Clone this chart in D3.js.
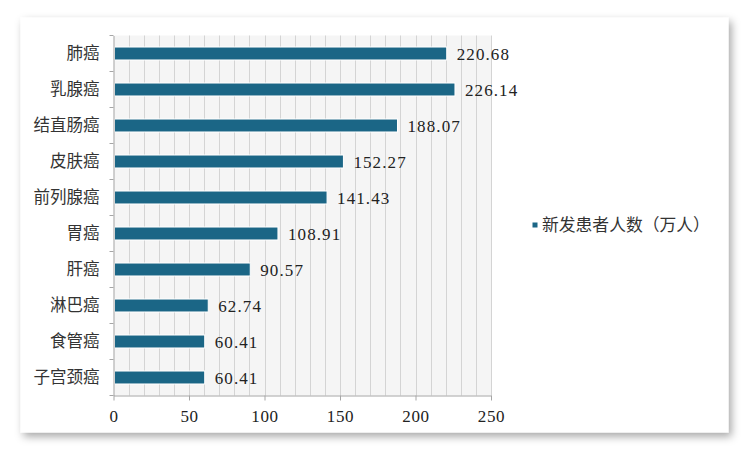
<!DOCTYPE html>
<html><head><meta charset="utf-8">
<script src="https://cdn.jsdelivr.net/npm/d3@7"></script>
<style>body{margin:0;background:#fff}</style>
</head><body>
<svg id="c" width="750" height="451"></svg>
<script>
const categories = ["肺癌","乳腺癌","结直肠癌","皮肤癌","前列腺癌","胃癌","肝癌","淋巴癌","食管癌","子宫颈癌"];
const values = [220.68,226.14,188.07,152.27,141.43,108.91,90.57,62.74,60.41,60.41];
const valueLabels = ["220.68","226.14","188.07","152.27","141.43","108.91","90.57","62.74","60.41","60.41"];
const xTicks = [0,50,100,150,200,250];
const gridTicks = d3.range(0,251,10);
const seriesName = "新发患者人数（万人）";

const numFont = "Liberation Serif, serif";
const cjkFont = "Noto Sans CJK SC, sans-serif";

const svg = d3.select("#c");
const defs = svg.append("defs");
const f = defs.append("filter").attr("id","sh").attr("x","-5%").attr("y","-8%").attr("width","112%").attr("height","120%");
f.append("feDropShadow").attr("dx",3).attr("dy",4).attr("stdDeviation",4.5).attr("flood-color","#000").attr("flood-opacity",0.35);

svg.append("rect").attr("x",20.5).attr("y",17.5).attr("width",708).attr("height",415)
  .attr("fill","#fff").attr("filter","url(#sh)");

const L=113.5, R=491, T=35.5, B=395.5;
const x = d3.scaleLinear().domain([0,250]).range([L,R]);
const y = d3.scaleBand().domain(categories).range([T,B]).paddingInner(0.64).paddingOuter(0.32);
const yb = d3.scaleBand().domain(categories).range([T,B]);

svg.append("rect").attr("x",L).attr("y",T).attr("width",R-L).attr("height",B-T).attr("fill","#f5f5f5");
svg.append("g").selectAll("line").data(gridTicks.filter(d=>d>0)).join("line")
  .attr("x1",d=>Math.round(x(d))+0.5).attr("x2",d=>Math.round(x(d))+0.5)
  .attr("y1",T).attr("y2",B).attr("stroke","#d4d4d4").attr("stroke-width",1);

// bars
svg.append("g").selectAll("rect").data(values).join("rect")
  .attr("x",L+1).attr("y",(d,i)=>y(categories[i]))
  .attr("width",d=>x(d)-L-1).attr("height",y.bandwidth())
  .attr("fill","#1b6686").attr("stroke","#ffffff").attr("stroke-width",1);

// value labels
svg.append("g").selectAll("text").data(values).join("text")
  .attr("x",d=>x(d)+10).attr("y",(d,i)=>y(categories[i])+y.bandwidth()/2)
  .attr("dy","0.36em").attr("font-family",numFont).attr("font-size",17)
  .attr("letter-spacing",1.1).attr("fill","#222").text((d,i)=>valueLabels[i]);

// x axis
const xa = svg.append("g").attr("transform",`translate(0,${B})`)
  .call(d3.axisBottom(x).tickValues(xTicks).tickSize(5).tickSizeOuter(0).tickPadding(9));
xa.select(".domain").attr("stroke","#a6a6a6");
xa.selectAll(".tick line").attr("stroke","#a6a6a6");
xa.selectAll("text").attr("font-family",numFont).attr("font-size",17).attr("letter-spacing",0.6).attr("fill","#222");

// y axis
const ya = svg.append("g").attr("transform",`translate(${L},0)`)
  .call(d3.axisLeft(yb).tickSize(0).tickPadding(14));
ya.select(".domain").attr("stroke","#a6a6a6");
ya.selectAll("text").attr("font-family",cjkFont).attr("font-size",16.5).attr("fill","#333");
svg.append("g").selectAll("line").data(d3.range(categories.length+1)).join("line")
  .attr("x1",L-4).attr("x2",L).attr("y1",i=>T+i*yb.step()).attr("y2",i=>T+i*yb.step())
  .attr("stroke","#a6a6a6");

// legend
svg.append("rect").attr("x",532.5).attr("y",222.5).attr("width",5).attr("height",5).attr("fill","#1b6686");
svg.append("text").attr("x",542).attr("y",225).attr("dy","0.36em")
  .attr("font-family",cjkFont).attr("font-size",16.8).attr("fill","#333").text(seriesName);
</script>
</body></html>
